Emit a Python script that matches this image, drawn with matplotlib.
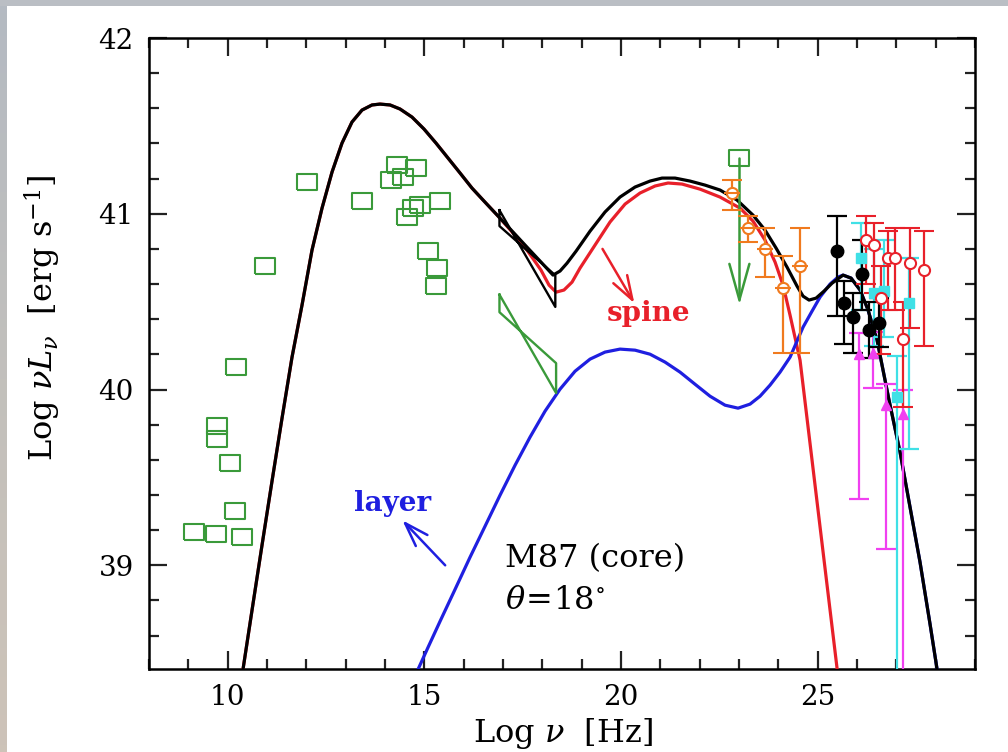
import numpy as np
import matplotlib
matplotlib.use('Agg')
import matplotlib.pyplot as plt
from matplotlib.ticker import MultipleLocator
from matplotlib.colors import LinearSegmentedColormap

plt.rcParams['font.family'] = ['DejaVu Serif']
plt.rcParams['mathtext.fontset'] = 'dejavuserif'

# ---------------- model curves ----------------
# synchrotron part (common to spine and total)
sync_x = [10.390, 10.619, 10.873, 11.127, 11.382, 11.636, 11.890, 12.144, 12.399, 12.653,
          12.907, 13.161, 13.416, 13.670, 13.873, 14.128, 14.382, 14.687, 14.992, 15.297,
          15.602, 15.907, 16.212, 16.543, 16.899]
sync_y = [38.408, 38.744, 39.114, 39.478, 39.837, 40.184, 40.480, 40.793, 41.032, 41.237,
          41.402, 41.522, 41.590, 41.619, 41.624, 41.619, 41.596, 41.550, 41.482, 41.402,
          41.317, 41.232, 41.146, 41.066, 40.981]

# total (black) beyond the synchrotron part
total_hi_x = [17.255, 17.611, 17.967, 18.272, 18.450, 18.628, 18.857, 19.213, 19.594, 19.975,
              20.357, 20.738, 21.043, 21.374, 21.755, 22.137, 22.518, 22.950, 23.357, 23.662,
              23.942, 24.222, 24.476, 24.629, 24.781, 24.959, 25.162, 25.366, 25.646, 25.849,
              26.078, 26.281, 26.510, 26.815, 27.095, 27.349, 27.603, 27.858, 28.036]
total_hi_y = [40.896, 40.810, 40.725, 40.651, 40.674, 40.719, 40.787, 40.901, 41.010, 41.095,
              41.152, 41.186, 41.203, 41.203, 41.186, 41.163, 41.135, 41.078, 40.992, 40.907,
              40.805, 40.696, 40.588, 40.531, 40.509, 40.520, 40.560, 40.605, 40.651, 40.634,
              40.566, 40.452, 40.281, 39.939, 39.643, 39.330, 39.017, 38.664, 38.408]

# spine (red) beyond the synchrotron part
spine_hi_x = [17.255, 17.611, 17.967, 18.170, 18.348, 18.550, 18.755, 18.959, 19.340, 19.721,
              20.103, 20.484, 20.866, 21.196, 21.552, 22.010, 22.518, 23.027, 23.357, 23.662,
              23.917, 24.120, 24.298, 24.552, 25.010, 25.493]
spine_hi_y = [40.890, 40.793, 40.679, 40.594, 40.554, 40.566, 40.611, 40.691, 40.822, 40.953,
              41.055, 41.118, 41.158, 41.175, 41.169, 41.140, 41.095, 41.032, 40.958, 40.850,
              40.725, 40.594, 40.423, 40.167, 39.313, 38.414]

# layer (blue)
layer_x = [14.840, 15.094, 15.399, 15.781, 16.162, 16.543, 16.925, 17.306, 17.687, 18.069,
           18.450, 18.831, 19.213, 19.594, 19.975, 20.357, 20.738, 21.120, 21.501, 21.883,
           22.264, 22.645, 22.976, 23.281, 23.535, 23.789, 24.044, 24.298, 24.629, 24.857,
           25.061, 25.315, 25.518, 25.646, 25.849, 26.078, 26.281, 26.510, 26.815, 27.095,
           27.349, 27.603, 27.858, 28.036]
layer_y = [38.408, 38.533, 38.681, 38.863, 39.046, 39.222, 39.399, 39.569, 39.729, 39.877,
           40.002, 40.104, 40.173, 40.213, 40.230, 40.224, 40.201, 40.156, 40.099, 40.030,
           39.962, 39.911, 39.894, 39.917, 39.962, 40.025, 40.099, 40.184, 40.355, 40.446,
           40.526, 40.600, 40.640, 40.651, 40.634, 40.566, 40.452, 40.281, 39.939, 39.643,
           39.330, 39.017, 38.664, 38.408]

# ---------------- data points ----------------
green_x = [9.15, 9.70, 10.37, 10.19, 10.06, 9.73, 9.73, 10.21, 10.95, 12.02, 13.42, 14.31,
           14.79, 14.46, 14.16, 15.40, 14.90, 14.72, 14.56, 15.10, 15.33, 15.30]
green_y = [39.19, 39.18, 39.16, 39.31, 39.58, 39.72, 39.79, 40.13, 40.70, 41.18, 41.07, 41.28,
           41.26, 41.21, 41.19, 41.07, 41.05, 41.03, 40.98, 40.79, 40.69, 40.59]

uplim_x = [23.01]
uplim_y = [41.32]
uplim_end = [40.51]

# optical bowtie (green) and X-ray bowtie (black)
opt_bow_x = [16.91, 18.35]
opt_bow_a = [40.54, 39.98]
opt_bow_b = [40.44, 40.15]
xr_bow_x = [16.91, 18.33]
xr_bow_a = [41.02, 40.47]
xr_bow_b = [40.93, 40.65]

orange_x = [22.83, 23.24, 23.67, 24.13, 24.56]
orange_y = [41.12, 40.92, 40.80, 40.58, 40.70]
orange_lo = [41.02, 40.84, 40.64, 40.21, 40.21]
orange_hi = [41.19, 40.99, 40.92, 40.76, 40.92]

black_x = [25.48, 25.68, 25.91, 26.12, 26.30, 26.55]
black_y = [40.79, 40.49, 40.41, 40.66, 40.34, 40.38]
black_lo = [40.42, 40.26, 40.21, 40.45, 40.18, 40.24]
black_hi = [40.99, 40.62, 40.55, 40.85, 40.50, 40.52]

cyan_x = [26.09, 26.42, 26.68, 27.01, 27.31]
cyan_y = [40.75, 40.55, 40.56, 39.96, 40.49]
cyan_lo = [40.45, 40.25, 40.30, 37.50, 39.66]
cyan_hi = [40.95, 40.80, 40.85, 40.19, 40.75]

mag_x = [26.04, 26.40, 26.73, 27.16]
mag_y = [40.20, 40.21, 39.91, 39.86]
mag_lo = [39.38, 40.01, 39.09, 37.50]
mag_hi = [40.32, 40.33, 40.03, 40.00]

red_x = [26.22, 26.42, 26.60, 26.78, 26.96, 27.16, 27.36, 27.70]
red_y = [40.85, 40.82, 40.52, 40.75, 40.75, 40.29, 40.72, 40.68]
red_lo = [40.60, 40.55, 40.20, 40.45, 40.45, 39.90, 40.35, 40.25]
red_hi = [40.99, 40.95, 40.70, 40.90, 40.92, 40.50, 40.92, 40.90]

GREEN = '#3a9a3a'
RED = '#e8202a'
BLUE = '#1f1fe0'
ORANGE = '#f07a1e'
CYAN = '#3fe0e6'
MAG = '#f040f0'

fig = plt.figure(figsize=(10.08, 7.52), dpi=100)
fig.patch.set_facecolor('white')
fig.patches.append(plt.Rectangle((0, 1 - 6 / 752), 1, 6 / 752, transform=fig.transFigure,
                                 facecolor='#babec4', edgecolor='none', zorder=-5))
gax = fig.add_axes([0, 0, 7 / 1008, 1 - 6 / 752])
grad = np.linspace(0, 1, 100)[:, None]
cm = LinearSegmentedColormap.from_list('g', ['#b4bac2', '#c2c0bc', '#cdc3b8'])
gax.imshow(grad, aspect='auto', cmap=cm, origin='upper')
gax.axis('off')

ax = fig.add_axes([149 / 1008, 1 - 669 / 752, (975 - 149) / 1008, (669 - 38) / 752])
ax.set_xlim(8, 29)
ax.set_ylim(38.41, 42)

# curves
spine_x = sync_x + spine_hi_x
spine_y = sync_y + spine_hi_y
total_x = sync_x + total_hi_x
total_y = sync_y + total_hi_y
ax.plot(spine_x, spine_y, color=RED, lw=2.3, zorder=3, solid_joinstyle='round')
ax.plot(layer_x, layer_y, color=BLUE, lw=2.3, zorder=3, solid_joinstyle='round')
ax.plot(total_x, total_y, color='black', lw=2.3, zorder=4, solid_joinstyle='round')

# bowties
for bx, a, b, col in [(opt_bow_x, opt_bow_a, opt_bow_b, GREEN), (xr_bow_x, xr_bow_a, xr_bow_b, 'black')]:
    ax.plot([bx[0], bx[1], bx[1], bx[0], bx[0]], [a[0], a[1], b[1], b[0], a[0]],
            color=col, lw=1.7, zorder=5)


def arrow(x0, y0, x1, y1, col, hl, hw, z=6):
    """shaft + open V head; hl/hw in pixels"""
    ax.plot([x0, x1], [y0, y1], color=col, lw=1.8, zorder=z, solid_capstyle='round')
    p0 = ax.transData.transform((x0, y0))
    p1 = ax.transData.transform((x1, y1))
    d = (p1 - p0) / np.hypot(*(p1 - p0))
    n = np.array([-d[1], d[0]])
    left = p1 - d * hl + n * hw
    right = p1 - d * hl - n * hw
    pts = ax.transData.inverted().transform(np.array([left, p1, right]))
    ax.plot(pts[:, 0], pts[:, 1], color=col, lw=1.8, zorder=z,
            solid_joinstyle='miter', solid_capstyle='round')


# green squares (rectangular markers)
rect = [(-1.35, -1), (1.35, -1), (1.35, 1), (-1.35, 1), (-1.35, -1)]
ax.plot(green_x, green_y, ls='none', marker=rect, ms=15, mfc='none', mec=GREEN, mew=1.5, zorder=6)
ax.plot(uplim_x, uplim_y, ls='none', marker=rect, ms=15, mfc='none', mec=GREEN, mew=1.5, zorder=6)
for xx, y0, y1 in zip(uplim_x, uplim_y, uplim_end):
    arrow(xx, y0, xx, y1, GREEN, 36, 10)


def eb(x, y, lo, hi, col, **kw):
    yerr = [np.array(y) - np.array(lo), np.array(hi) - np.array(y)]
    ax.errorbar(x, y, yerr=yerr, ls='none', color=col, ecolor=col, elinewidth=1.6,
                capsize=7, capthick=1.6, zorder=6, **kw)


eb(orange_x, orange_y, orange_lo, orange_hi, ORANGE, marker='o', ms=8, mfc='white', mec=ORANGE, mew=1.5)
ax.plot(orange_x, orange_y, ls='none', marker='_', ms=12, mec=ORANGE, mew=1.5, zorder=7)
eb(mag_x, mag_y, mag_lo, mag_hi, MAG, marker='^', ms=7, mfc=MAG, mec=MAG)
eb(cyan_x, cyan_y, cyan_lo, cyan_hi, CYAN, marker='s', ms=7, mfc=CYAN, mec=CYAN)
eb(red_x, red_y, red_lo, red_hi, RED, marker='o', ms=8, mfc='white', mec=RED, mew=1.5)
eb(black_x, black_y, black_lo, black_hi, 'black', marker='o', ms=9, mfc='black', mec='black')

# annotations
arrow(19.53, 40.80, 20.29, 40.51, RED, 24, 8)
ax.text(20.70, 40.43, 'spine', color=RED, fontsize=20, fontweight='bold', ha='center', va='center')
arrow(15.53, 39.00, 14.51, 39.24, BLUE, 24, 8)
ax.text(14.18, 39.35, 'layer', color=BLUE, fontsize=20, fontweight='bold', ha='center', va='center')
ax.text(17.06, 39.04, 'M87 (core)', fontsize=23, ha='left', va='center')
ax.text(17.06, 38.80, r'$\theta\!=\!18^{\circ}$', fontsize=23, ha='left', va='center')

ax.set_xticks([10, 15, 20, 25])
ax.set_yticks([39, 40, 41, 42])
ax.xaxis.set_minor_locator(MultipleLocator(1))
ax.yaxis.set_minor_locator(MultipleLocator(0.2))
ax.tick_params(which='both', direction='in', top=True, right=True, width=1.6, color='#222222')
ax.tick_params(which='major', length=13, labelsize=20, pad=11)
ax.tick_params(which='minor', length=7)
for s in ax.spines.values():
    s.set_linewidth(1.8)

ax.set_xlabel(r'Log $\nu$  [Hz]', fontsize=23, va='center')
ax.xaxis.set_label_coords(0.501, -0.103)
ax.set_ylabel(r'Log $\nu L_\nu$  [erg s$^{-1}$]', fontsize=23, va='center')
ax.yaxis.set_label_coords(-0.128, 0.556)

fig.savefig('out.png', dpi=100)
